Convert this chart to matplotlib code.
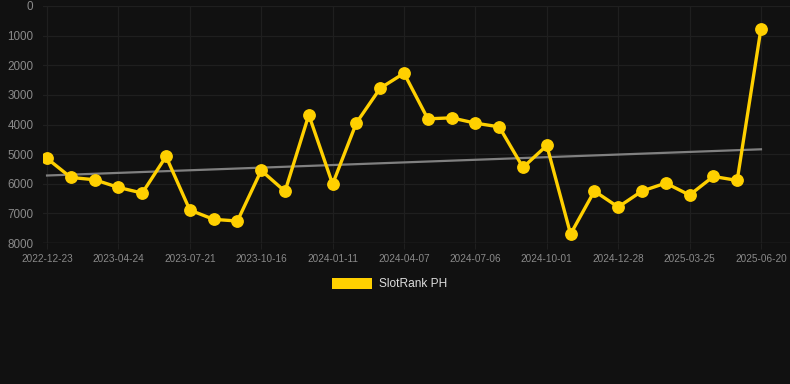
import matplotlib
matplotlib.use("Agg")
import matplotlib.pyplot as plt
import numpy as np
from matplotlib.patches import Rectangle

dates = ["2022-12-23", "2023-01-22", "2023-02-21", "2023-04-24", "2023-05-24",
         "2023-06-21", "2023-07-21", "2023-08-20", "2023-09-18", "2023-10-16",
         "2023-11-15", "2023-12-13", "2024-01-11", "2024-02-10", "2024-03-09",
         "2024-04-07", "2024-05-07", "2024-06-06", "2024-07-06", "2024-08-04",
         "2024-09-02", "2024-10-01", "2024-10-31", "2024-11-29", "2024-12-28",
         "2025-01-27", "2025-02-25", "2025-03-25", "2025-04-24", "2025-05-22",
         "2025-06-20"]
ranks = [5146, 5787, 5865, 6124, 6315, 5079, 6888, 7202, 7258, 5551,
         6258, 3674, 6011, 3944, 2775, 2270, 3809, 3775, 3955, 4079,
         5449, 4708, 7697, 6247, 6787, 6247, 5978, 6382, 5753, 5888,
         764]
series_name = "SlotRank PH"
yticks = [0, 1000, 2000, 3000, 4000, 5000, 6000, 7000, 8000]

W, H = 790, 384
bg = "#111111"
grid_c = "#1f1f1f"
yellow = "#FFD000"

fig = plt.figure(figsize=(W / 100, H / 100), dpi=100, facecolor=bg)
ax = fig.add_axes([43 / W, (H - 243) / H, (W - 43) / W, (243 - 6) / H])
ax.set_facecolor(bg)

x = np.arange(len(ranks))
coef = np.polyfit(x, ranks, 1)
trend = np.polyval(coef, x)
ax.plot(x, trend, color="#808080", lw=1.6, zorder=2)
ax.plot(x, ranks, color=yellow, lw=2.4, marker="o", ms=8.2,
        markerfacecolor=yellow, markeredgecolor=yellow, zorder=3)

ax.set_xlim(-0.17, 31.22)
ax.set_ylim(8000, 0)
ax.set_yticks(yticks)
ax.set_yticklabels([str(v) for v in yticks])
ax.set_xticks(x[::3])
ax.set_xticklabels([dates[i] for i in range(0, len(dates), 3)])

ax.grid(True, color=grid_c, lw=0.9, zorder=0)
for s in ax.spines.values():
    s.set_visible(False)
ax.axhline(8000, color="#2b2b2b", lw=1.0, zorder=1)

ax.tick_params(axis="y", length=0, pad=7, labelsize=8.4, labelcolor="#8a8a8a",
               labelfontfamily="Liberation Sans")
ax.tick_params(axis="x", length=4, color=grid_c, pad=4, labelsize=7.2,
               labelcolor="#8a8a8a", labelfontfamily="Liberation Sans")

# legend
fig.patches.append(Rectangle((332 / W, (H - 289) / H), 40 / W, 11 / H,
                             transform=fig.transFigure, facecolor=yellow,
                             edgecolor=yellow, lw=0))
fig.text(379 / W, (H - 284) / H, series_name, color="#dddddd", fontsize=8.6,
         family="Liberation Sans", va="center", ha="left")

fig.savefig("out.png", dpi=100, facecolor=bg)
